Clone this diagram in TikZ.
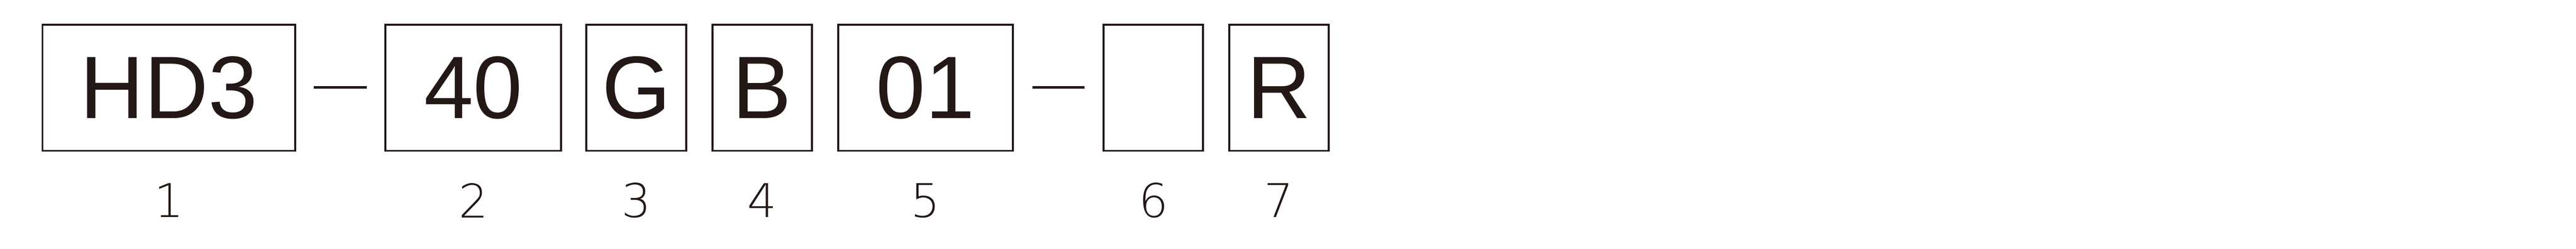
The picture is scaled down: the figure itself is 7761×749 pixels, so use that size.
\documentclass[tikz,border=0pt]{standalone}
\usepackage{fontspec}
\setmainfont{Liberation Sans}
\IfFontExistsTF{DejaVu Sans ExtraLight}{\newfontfamily\numfont{DejaVu Sans ExtraLight}}{\newfontfamily\numfont{DejaVu Sans}}
\definecolor{ink}{HTML}{231815}
\tikzset{
  codebox/.style={draw=ink, line width=0.6pt, minimum height=38pt, inner sep=0pt, outer sep=0pt,
    text=ink, font=\fontsize{26.7}{30}\selectfont},
  numlabel/.style={text=ink, inner sep=0pt, font=\numfont\fontsize{14}{16}\selectfont},
  sepdash/.style={draw=ink, line width=0.7pt}
}
\begin{document}
\begin{tikzpicture}[x=0.1pt,y=-0.1pt]
\useasboundingbox (0,0) rectangle (7761,749);
\node[codebox, minimum width=76.2pt] (b1) at (509,264) {HD3};
\node[codebox, minimum width=53pt]   (b2) at (1426,264) {40};
\node[codebox, minimum width=30pt]   (b3) at (1917,264) {G};
\node[codebox, minimum width=30pt]   (b4) at (2296,264) {B};
\node[codebox, minimum width=52.7pt] (b5) at (2788.5,264) {01};
\node[codebox, minimum width=30pt]   (b6) at (3475,264) {};
\node[codebox, minimum width=30pt]   (b7) at (3853,264) {R};
\coordinate (d1a) at (946,263);
\coordinate (d1b) at (1105,263);
\coordinate (d2a) at (3111,263);
\coordinate (d2b) at (3268,263);
\draw[sepdash] (d1a) -- (d1b);
\draw[sepdash] (d2a) -- (d2b);
\foreach \i in {1,...,7}{
  \node[numlabel] (n\i) at (b\i.center |- 0,604) {\i};
}
\end{tikzpicture}
\end{document}
